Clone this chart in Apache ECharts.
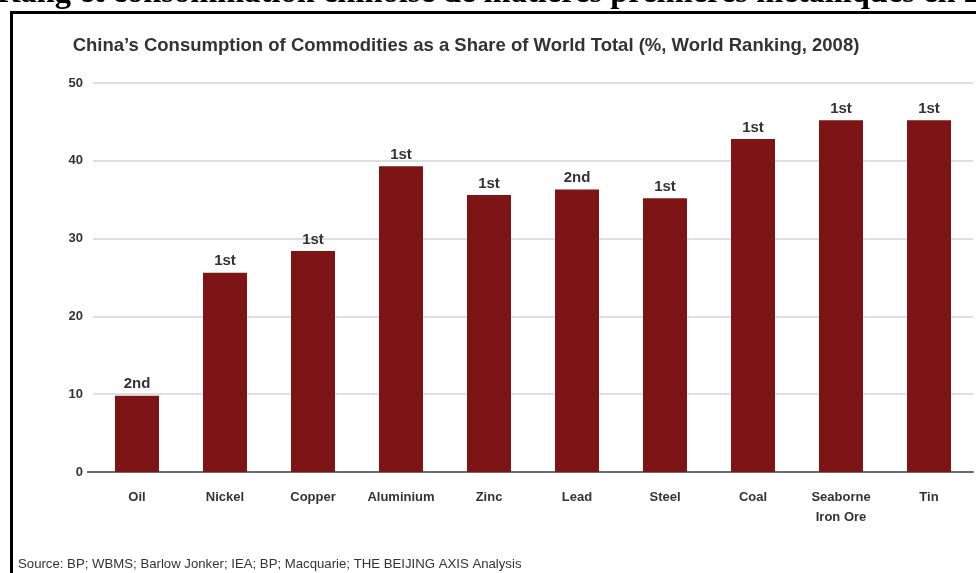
<!DOCTYPE html>
<html>
<head>
<meta charset="utf-8">
<script src="https://cdn.jsdelivr.net/npm/echarts@6/dist/echarts.min.js"></script>
<style>
html,body{margin:0;padding:0;background:#fff;}
#chart{width:976px;height:573px;}
</style>
</head>
<body>
<div id="chart"></div>
<script>
var pageHeading = 'Rang et consommation chinoise de matières premières métalliques en 2008';
var chartTitle = 'China\u2019s Consumption of Commodities as a Share of World Total (%, World Ranking, 2008)';
var sourceNote = 'Source: BP; WBMS; Barlow Jonker; IEA; BP; Macquarie; THE BEIJING AXIS Analysis';
var categories = ['Oil', 'Nickel', 'Copper', 'Aluminium', 'Zinc', 'Lead', 'Steel', 'Coal', 'Seaborne\nIron Ore', 'Tin'];
var shares = [9.8, 25.6, 28.4, 39.3, 35.6, 36.3, 35.2, 42.8, 45.2, 45.2];
var rankings = ['2nd', '1st', '1st', '1st', '1st', '2nd', '1st', '1st', '1st', '1st'];
var yTicks = [0, 10, 20, 30, 40, 50];

var chart = echarts.init(document.getElementById('chart'), null, {renderer: 'canvas'});
var font = 'Liberation Sans, Arial, sans-serif';
chart.setOption({
  backgroundColor: '#ffffff',
  animation: false,
  title: {
    text: chartTitle,
    left: 461,
    textAlign: 'center',
    top: 31,
    textStyle: {fontFamily: font, fontSize: 18.5, fontWeight: 'bold', color: '#333333'}
  },
  graphic: [
    {type: 'rect', shape: {x: 11.5, y: 12.5, width: 1100, height: 700}, style: {fill: null, stroke: '#000000', lineWidth: 3}, silent: true},
    {type: 'line', shape: {x1: 87, y1: 472, x2: 93, y2: 472}, style: {stroke: '#6a6a6a', lineWidth: 2}, silent: true},
    {type: 'text', left: -3, top: -23, style: {text: pageHeading, font: 'bold 32.5px "Liberation Serif", "Times New Roman", serif', fill: '#000000'}},
    {type: 'text', left: 18, top: 558, style: {text: sourceNote, font: '13.2px "Liberation Sans", Arial, sans-serif', fill: '#333333'}}
  ],
  grid: {left: 93, right: 3, top: 83, bottom: 101, containLabel: false},
  xAxis: {
    type: 'category',
    data: categories,
    axisTick: {show: false},
    axisLine: {lineStyle: {color: '#6a6a6a', width: 2}},
    axisLabel: {fontFamily: font, fontSize: 13, fontWeight: 'bold', color: '#333333', margin: 15, lineHeight: 20, interval: 0}
  },
  yAxis: {
    type: 'value',
    min: yTicks[0],
    max: yTicks[yTicks.length - 1],
    interval: yTicks[1] - yTicks[0],
    axisLine: {show: false},
    axisTick: {show: false},
    axisLabel: {fontFamily: font, fontSize: 13, fontWeight: 'bold', color: '#333333', margin: 10},
    splitLine: {lineStyle: {color: '#d4d4d4', width: 1.5}}
  },
  series: [{
    type: 'bar',
    data: shares,
    barWidth: 44,
    itemStyle: {color: '#7d1517'},
    label: {
      show: true,
      position: 'top',
      distance: 4,
      fontFamily: font,
      fontSize: 15,
      fontWeight: 'bold',
      color: '#333333',
      formatter: function (p) { return rankings[p.dataIndex]; }
    }
  }]
});
</script>
</body>
</html>
